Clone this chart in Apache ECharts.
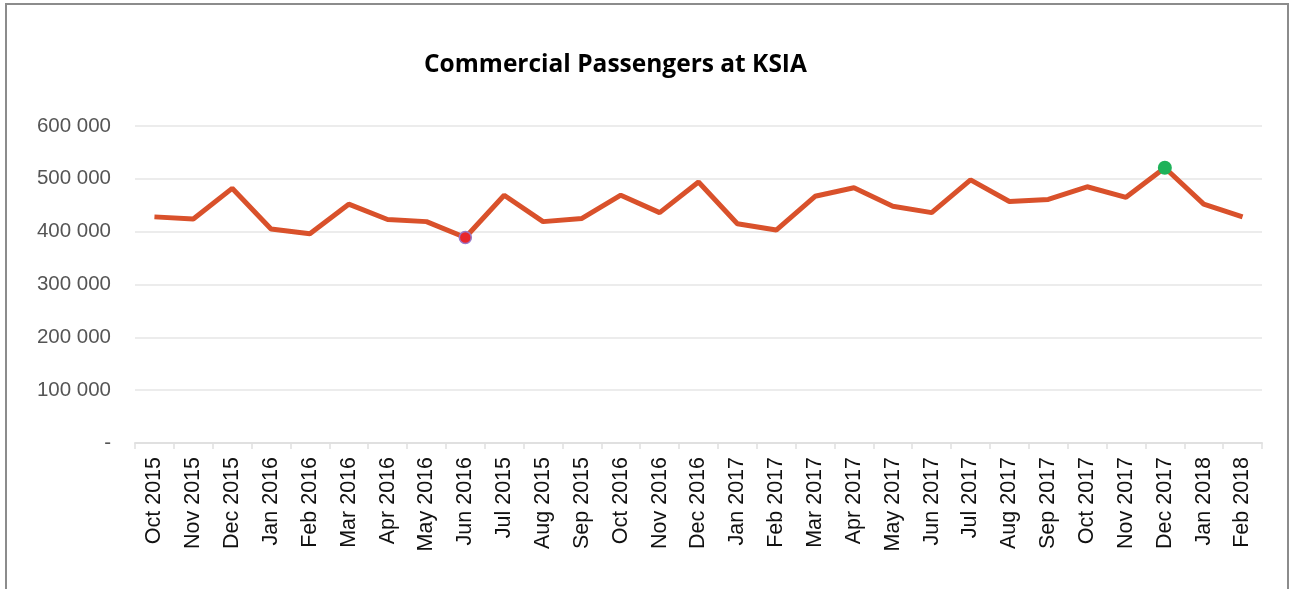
<!DOCTYPE html>
<html>
<head>
<meta charset="utf-8">
<script src="https://cdn.jsdelivr.net/npm/echarts@6/dist/echarts.min.js"></script>
<style>
html,body{margin:0;padding:0;background:#fff;overflow:hidden;}
#frame{position:absolute;left:5px;top:3px;width:1284px;height:600px;border:2px solid #8c8c8c;box-sizing:border-box;}
#chart{position:absolute;left:0;top:0;width:1292px;height:589px;}
</style>
</head>
<body>
<div id="frame"></div>
<div id="chart"></div>
<script>
const titleText = 'Commercial Passengers at KSIA';
const categories = ['Oct 2015','Nov 2015','Dec 2015','Jan 2016','Feb 2016','Mar 2016','Apr 2016','May 2016','Jun 2016','Jul 2015','Aug 2015','Sep 2015','Oct 2016','Nov 2016','Dec 2016','Jan 2017','Feb 2017','Mar 2017','Apr 2017','May 2017','Jun 2017','Jul 2017','Aug 2017','Sep 2017','Oct 2017','Nov 2017','Dec 2017','Jan 2018','Feb 2018'];
const passengers = [428000,424000,482000,405000,396000,452000,423000,419000,389000,469000,419000,425000,469000,436000,494000,415000,403000,467000,483000,448000,436000,498000,457000,461000,485000,465000,521000,452000,428000];
const lowIndex = 8;
const highIndex = 26;
const yTicks = [0,100000,200000,300000,400000,500000,600000];

const chart = echarts.init(document.getElementById('chart'), null, {renderer:'canvas'});
const seriesData = passengers.map((v,i)=>{
  if(i===lowIndex) return {value:v, symbol:'circle', symbolSize:12, itemStyle:{color:'#e8262c', borderColor:'#9a78c8', borderWidth:1.5}};
  if(i===highIndex) return {value:v, symbol:'circle', symbolSize:14, itemStyle:{color:'#1fb25a', borderColor:'#1fb25a', borderWidth:0}};
  return {value:v, symbol:'none'};
});
chart.setOption({
  animation:false,
  title:{text:titleText,left:419,top:48,textStyle:{fontFamily:'Open Sans',fontWeight:'bold',fontSize:24.5,color:'#000'}},
  grid:{left:135,right:30,top:126,bottom:146},
  xAxis:{type:'category',data:categories,boundaryGap:true,
    axisLine:{show:true,lineStyle:{color:'#e0e0e0',width:2}},
    axisTick:{show:true,length:6,lineStyle:{color:'#e0e0e0',width:1.5}},
    axisLabel:{rotate:90,interval:0,color:'#111',fontFamily:'Liberation Sans',fontSize:21.5,margin:14}
  },
  yAxis:{type:'value',min:yTicks[0],max:yTicks[yTicks.length-1],interval:100000,
    axisLine:{show:false},axisTick:{show:false},
    splitLine:{lineStyle:{color:'#e6e6e6',width:1.5}},
    axisLabel:{color:'#555',fontFamily:'Liberation Sans',fontSize:20.5,margin:24,
      formatter:v=> v===0 ? '-' : String(v).replace(/\B(?=(\d{3})+(?!\d))/g,' ')}
  },
  series:[{type:'line',data:seriesData,showSymbol:true,lineStyle:{color:'#d9512b',width:5},itemStyle:{color:'#d9512b'},z:3}]
});
</script>
</body>
</html>
